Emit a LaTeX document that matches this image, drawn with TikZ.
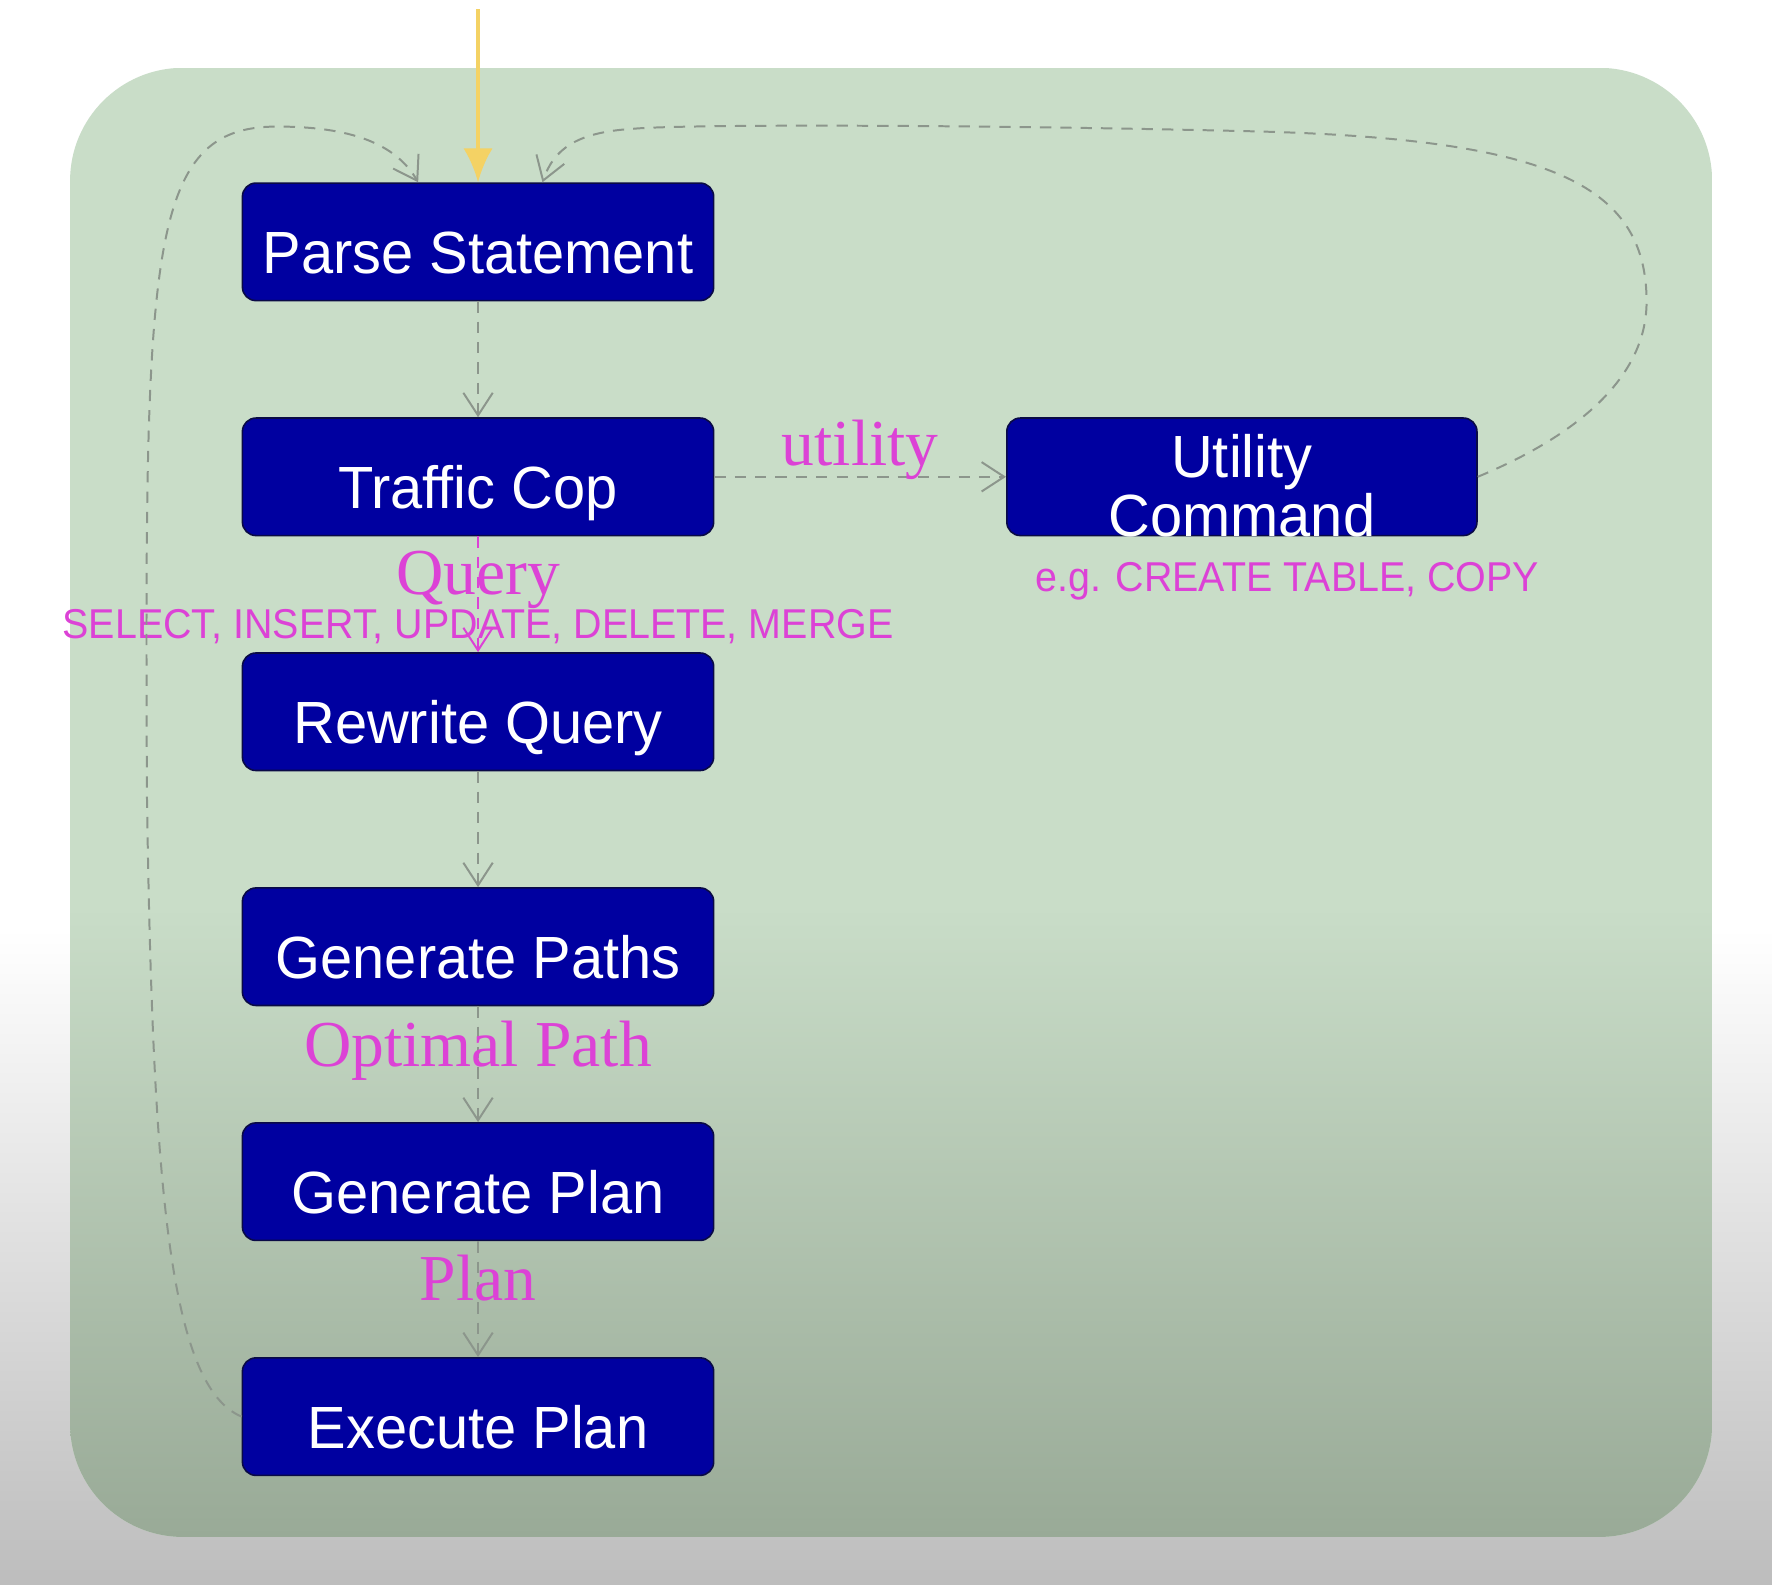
\documentclass[tikz,border=0pt]{standalone}
\usepackage{fontspec}
\setmainfont{Liberation Sans}
\newfontfamily\stagefont[FakeStretch=0.97]{Liberation Sans}
\newfontfamily\notefont[FakeStretch=0.945]{Liberation Sans}
\newfontfamily\edgefont{Liberation Serif}
\usepackage{xcolor}
\usepackage{tikz}
\usetikzlibrary{positioning,arrows.meta,calc}
\definecolor{stageblue}{RGB}{0,0,160}
\definecolor{stageline}{RGB}{10,10,70}
\definecolor{panelhi}{RGB}{201,221,200}
\definecolor{panello}{RGB}{153,170,151}
\definecolor{flowgray}{RGB}{140,150,140}
\definecolor{labelmag}{RGB}{220,66,214}
\definecolor{entryyel}{RGB}{244,210,100}
\definecolor{floorgray}{RGB}{189,189,189}

\begin{document}
\begin{tikzpicture}[
  stage/.style={draw=stageline,fill=stageblue,rounded corners=0.12cm,minimum width=4.17cm,minimum height=1.04cm,inner sep=0pt,text=white,font=\stagefont\fontsize{15}{15}\selectfont,text height=0.56cm,text depth=0cm},
  flow/.style={draw=flowgray,line width=0.5pt,dash pattern=on 1mm off 0.8mm,-{Straight Barb[length=2mm,width=2.6mm]}},
  edgelbl/.style={text=labelmag,font=\edgefont\fontsize{16.5}{18}\selectfont,inner sep=0pt},
  notelbl/.style={text=labelmag,font=\notefont\fontsize{10.5}{12}\selectfont,inner sep=0pt}]
% page and panel
\useasboundingbox (0,0) rectangle (15.68,14.02);
\fill[white] (0,0) rectangle (15.68,14.02);
\shade[top color=white,bottom color=floorgray] (0,0) rectangle (15.68,5.8);
\begin{scope}
\clip[rounded corners=1cm] (0.62,0.42) rectangle (15.15,13.42);
\fill[panelhi] (0.62,0.42) rectangle (15.15,13.42);
\shade[top color=panelhi,bottom color=panello] (0.62,0.42) rectangle (15.15,6.0);
\end{scope}
% stages
\node[stage] (parse) at (4.23,11.88) {Parse Statement};
\node[stage,below=1.025cm of parse] (tcop) {Traffic Cop};
\node[stage,below=1.025cm of tcop] (rewrite) {Rewrite Query};
\node[stage,below=1.025cm of rewrite] (paths) {Generate Paths};
\node[stage,below=1.025cm of paths] (plan) {Generate Plan};
\node[stage,below=1.025cm of plan] (exec) {Execute Plan};
\node[stage,right=2.58cm of tcop,minimum width=4.16cm] (ucmd) {};
\node[text=white,font=\stagefont\fontsize{15}{14.8}\selectfont,align=center,inner sep=0pt] (ucmdtxt) at ($(ucmd)+(0,-0.08)$) {Utility\\Command};
\node[notelbl] (egnote) at (11.39,8.88) {e.g. CREATE TABLE, COPY};
% entry
\coordinate (entry) at (4.23,13.94);
\draw[entryyel,line width=1pt,-{Latex[length=3mm,width=2.6mm]}] (entry) -- (parse.north);
% main flow
\draw[flow] (parse.south) -- (tcop.north);
\draw[flow,draw=labelmag] (tcop.south) -- (rewrite.north)
  node[edgelbl,midway,yshift=0.13cm] (qlbl) {Query}
  node[notelbl,midway,yshift=-0.29cm] (qkinds) {SELECT, INSERT, UPDATE, DELETE, MERGE};
\draw[flow] (tcop.east) -- (ucmd.west) node[edgelbl,midway,yshift=0.24cm] (ulbl) {utility};
\draw[flow] (rewrite.south) -- (paths.north);
\draw[flow] (paths.south) -- (plan.north) node[edgelbl,midway,yshift=0.12cm] (olbl) {Optimal Path};
\draw[flow] (plan.south) -- (exec.north) node[edgelbl,midway,yshift=0.19cm] (plbl) {Plan};
% back to parse
\draw[flow] (exec.west) .. controls (1.5,1.75) and (1.35,3.5) .. (1.30,7.0)
  .. controls (1.28,11.8) and (1.3,12.9) .. (2.45,12.9)
  .. controls (3.1,12.9) and (3.5,12.75) .. ([xshift=-0.53cm]parse.north);
\draw[flow] (ucmd.east) .. controls (13.8,10.1) and (14.57,10.6) .. (14.57,11.35)
  .. controls (14.57,12.4) and (13.7,12.8) .. (11.0,12.86)
  .. controls (8.5,12.92) and (6.0,12.92) .. (5.6,12.88)
  .. controls (5.1,12.85) and (4.9,12.7) .. ([xshift=0.57cm]parse.north);
\end{tikzpicture}
\end{document}
